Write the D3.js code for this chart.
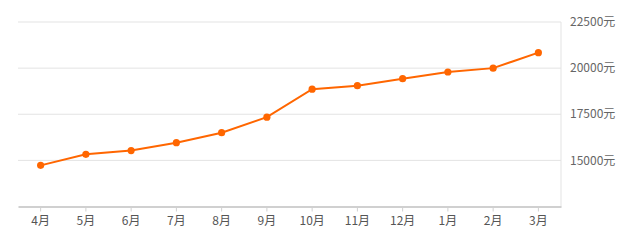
<!DOCTYPE html>
<meta charset="utf-8">
<style>
body { margin: 0; background: #fff; }
text { font-family: "Noto Sans CJK SC", "DejaVu Sans", sans-serif; }
</style>
<svg id="svg" width="640" height="247"></svg>
<script src="https://d3js.org/d3.v7.min.js"></script>
<script>
// months along the bottom
var months = ["4月", "5月", "6月", "7月", "8月", "9月", "10月", "11月", "12月", "1月", "2月", "3月"];
// price per month
var prices = [14730, 15330, 15530, 15960, 16500, 17340, 18860, 19050, 19430, 19790, 20000, 20840];
// y tick values
var yTicks = [15000, 17500, 20000, 22500];

var svg = d3.select("svg");
var plotLeft = 18, plotRight = 561, plotTop = 22, plotBottom = 206.5;

var x = d3.scaleBand().domain(months).range([plotLeft, plotRight]);
var y = d3.scaleLinear().domain([12500, 22500]).range([plotBottom, plotTop]);

// grid lines
svg.append("g")
    .selectAll("line")
    .data(yTicks)
    .enter().append("line")
    .attr("x1", plotLeft)
    .attr("x2", plotRight)
    .attr("y1", function(d) { return y(d); })
    .attr("y2", function(d) { return y(d); })
    .attr("stroke", "#e3e3e3")
    .attr("stroke-width", 1);

// right border
svg.append("line")
    .attr("x1", plotRight).attr("x2", plotRight)
    .attr("y1", plotTop).attr("y2", plotBottom)
    .attr("stroke", "#e3e3e3");

// y labels on the right
svg.append("g")
    .selectAll("text")
    .data(yTicks)
    .enter().append("text")
    .attr("x", 570)
    .attr("y", function(d) { return y(d); })
    .attr("dy", "0.35em")
    .attr("font-size", 12)
    .attr("fill", "#666")
    .text(function(d) { return d + "元"; });

// bottom axis
var xAxis = svg.append("g")
    .attr("transform", "translate(0," + plotBottom + ")")
    .call(d3.axisBottom(x).tickSizeInner(5).tickSizeOuter(0).tickPadding(5));
xAxis.select(".domain").attr("stroke", "#d0d0d0").attr("stroke-width", 2);
xAxis.selectAll(".tick line").attr("stroke", "#d0d0d0");
xAxis.selectAll(".tick text")
    .attr("font-size", 12)
    .attr("fill", "#555")
    .style("font-family", '"Noto Sans CJK SC", "DejaVu Sans", sans-serif');

var cx = function(d, i) { return x(months[i]) + x.bandwidth() / 2; };

var line = d3.line()
    .x(cx)
    .y(function(d) { return y(d); });

svg.append("path")
    .datum(prices)
    .attr("d", line)
    .attr("fill", "none")
    .attr("stroke", "#ff6600")
    .attr("stroke-width", 2);

svg.append("g")
    .selectAll("circle")
    .data(prices)
    .enter().append("circle")
    .attr("cx", cx)
    .attr("cy", function(d) { return y(d); })
    .attr("r", 3.6)
    .attr("fill", "#ff6600");
</script>
